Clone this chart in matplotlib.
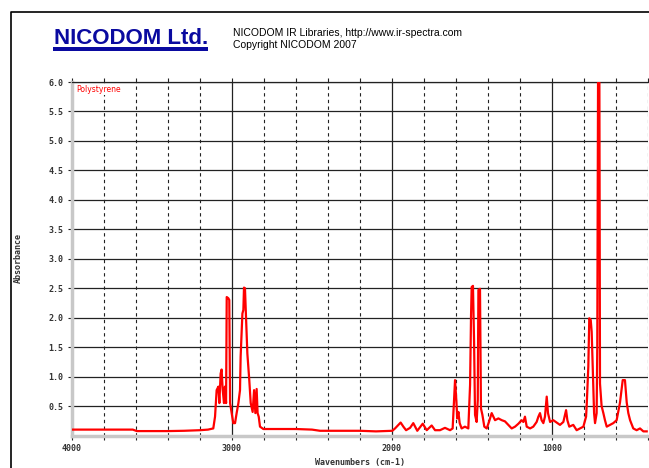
import matplotlib
matplotlib.use("Agg")
import matplotlib.pyplot as plt
from matplotlib.lines import Line2D
from matplotlib.patches import Rectangle
from matplotlib.ticker import MultipleLocator, FuncFormatter

# polystyrene IR spectrum
wavenumber = [
    4000, 3900, 3800, 3700, 3620, 3595, 3500, 3400, 3300, 3200, 3150, 3117,
    3106, 3096, 3085, 3079, 3071, 3065, 3058, 3050, 3044, 3037, 3033, 3023,
    3017, 3012, 3002, 2992, 2981, 2971, 2960, 2950, 2946, 2935, 2929, 2925,
    2919, 2912, 2904, 2892, 2883, 2871, 2862, 2854, 2846, 2840, 2833, 2825,
    2804, 2700, 2600, 2500, 2450, 2400, 2300, 2200, 2100, 2010, 1998, 1981,
    1960, 1946, 1929, 1912, 1887, 1867, 1842, 1808, 1783, 1752, 1731, 1700,
    1669, 1637, 1621, 1612, 1606, 1598, 1592, 1585, 1577, 1565, 1544, 1523,
    1512, 1506, 1502, 1494, 1487, 1481, 1471, 1464, 1460, 1450, 1444, 1435,
    1423, 1408, 1394, 1377, 1356, 1335, 1314, 1294, 1273, 1252, 1231, 1210,
    1190, 1179, 1169, 1158, 1137, 1117, 1096, 1085, 1075, 1065, 1054, 1044,
    1033, 1025, 1012, 992, 971, 950, 929, 912, 904, 892, 867, 846,
    825, 804, 787, 783, 773, 767, 758, 752, 746, 737, 731, 721,
    717, 712, 704, 700, 690, 679, 669, 658, 638, 617, 596, 575,
    558, 544, 533, 523, 512, 492, 471, 450, 429, 408,
]
absorbance = [
    0.10, 0.10, 0.10, 0.10, 0.10, 0.075, 0.075, 0.075, 0.08, 0.09, 0.10, 0.12,
    0.32, 0.77, 0.83, 0.55, 1.05, 1.12, 0.77, 0.55, 0.83, 0.55, 2.35, 2.33,
    2.30, 0.55, 0.38, 0.21, 0.21, 0.38, 0.55, 0.77, 1.34, 2.07, 2.13, 2.51,
    2.50, 1.96, 1.39, 0.94, 0.55, 0.40, 0.77, 0.38, 0.79, 0.38, 0.32, 0.15,
    0.11, 0.11, 0.11, 0.10, 0.08, 0.08, 0.08, 0.08, 0.07, 0.08, 0.08, 0.12,
    0.18, 0.22, 0.15, 0.09, 0.13, 0.21, 0.08, 0.20, 0.09, 0.17, 0.09, 0.09,
    0.13, 0.09, 0.12, 0.60, 0.94, 0.60, 0.29, 0.40, 0.21, 0.12, 0.15, 0.12,
    0.86, 2.04, 2.52, 2.54, 1.59, 0.35, 0.23, 0.60, 2.47, 2.49, 0.46, 0.35,
    0.15, 0.12, 0.23, 0.38, 0.26, 0.29, 0.26, 0.24, 0.18, 0.12, 0.15, 0.20,
    0.26, 0.23, 0.32, 0.15, 0.12, 0.15, 0.23, 0.32, 0.38, 0.26, 0.21, 0.32,
    0.66, 0.38, 0.23, 0.26, 0.22, 0.18, 0.23, 0.43, 0.26, 0.15, 0.18, 0.09,
    0.12, 0.15, 0.32, 0.52, 1.17, 1.99, 1.96, 1.76, 1.22, 0.38, 0.21, 0.38,
    1.50, 6.20, 6.20, 0.88, 0.50, 0.38, 0.26, 0.15, 0.18, 0.21, 0.26, 0.56,
    0.94, 0.94, 0.56, 0.38, 0.26, 0.12, 0.09, 0.12, 0.07, 0.07,
]

x_major = [4000, 3000, 2000, 1000]
y_ticks = [0.5, 1.0, 1.5, 2.0, 2.5, 3.0, 3.5, 4.0, 4.5, 5.0, 5.5, 6.0]

W, H = 649, 468
fig = plt.figure(figsize=(W / 100, H / 100), dpi=100)
fig.patch.set_facecolor("white")

ax_l, ax_r, ax_t, ax_b = 72, 648, 82, 435.5
ax = fig.add_axes([ax_l / W, 1 - ax_b / H, (ax_r - ax_l) / W, (ax_b - ax_t) / H])

ax.set_xlim(4000, 400)
ax.set_ylim(0, 6.0)

# vertical grid: solid at each thousand, dashed every 200
for wn in range(4000, 399, -200):
    if wn % 1000 == 0 and wn != 4000:
        ax.axvline(wn, color="#222222", linewidth=0.9, zorder=1)
    else:
        ax.axvline(wn, color="#222222", linewidth=0.8, linestyle=(0, (3, 3)), zorder=1)
for yv in y_ticks:
    ax.axhline(yv, color="#222222", linewidth=0.9, zorder=1)

ax.plot(wavenumber, absorbance, color="#ff0000", linewidth=1.6, zorder=3)

for side in ["left", "bottom"]:
    ax.spines[side].set_color("#c8c8c8")
    ax.spines[side].set_linewidth(2.5)
ax.spines["right"].set_visible(False)
ax.spines["top"].set_color("#222222")
ax.spines["top"].set_linewidth(0.9)

ax.xaxis.set_major_locator(MultipleLocator(200))
ax.xaxis.set_major_formatter(FuncFormatter(lambda v, p: f"{int(v)}" if int(v) in x_major else ""))
ax.set_yticks(y_ticks)
ax.yaxis.set_major_formatter(FuncFormatter(lambda v, p: f"{v:.1f}"))

tick_font = dict(family="DejaVu Sans Mono", weight="bold", size=6)
ax.tick_params(axis="x", which="both", top=True, bottom=True, direction="out", length=3, width=0.8, color="#222222", pad=3, labelcolor="#333333")
ax.tick_params(axis="y", direction="out", length=3, width=0.8, color="#222222", pad=3, labelcolor="#333333")
for lab in ax.get_xticklabels() + ax.get_yticklabels():
    lab.set_fontfamily(tick_font["family"])
    lab.set_fontweight(tick_font["weight"])
    lab.set_fontsize(tick_font["size"])

ax.text(0.008, 0.992, "Polystyrene", transform=ax.transAxes, color="#ff0000", fontsize=5.5, va="top", ha="left", zorder=4,
        bbox=dict(facecolor="white", edgecolor="none", pad=0.5))

fig.text(18 / W, 1 - 258 / H, "Absorbance", rotation=90, ha="center", va="center", fontsize=6, fontweight="bold", family="DejaVu Sans Mono", color="#333333")
fig.text(360 / W, 1 - 462 / H, "Wavenumbers (cm-1)", ha="center", va="center", fontsize=6, fontweight="bold", family="DejaVu Sans Mono", color="#333333")

# header
blue = "#0a0aa0"
fig.text(54 / W, 1 - 44 / H, "NICODOM Ltd.", color=blue, fontsize=16, fontweight="bold", family="Liberation Sans", ha="left", va="baseline")
fig.add_artist(Rectangle((53 / W, 1 - 51 / H), 155 / W, 4 / H, transform=fig.transFigure, facecolor=blue, edgecolor="none"))
fig.text(233 / W, 1 - 33 / H, "NICODOM IR Libraries, http://www.ir-spectra.com", fontsize=7.5, family="Liberation Sans", ha="left", va="center")
fig.text(233 / W, 1 - 45 / H, "Copyright NICODOM 2007", fontsize=7.5, family="Liberation Sans", ha="left", va="center")

# page frame
fig.add_artist(Line2D([11 / W, 11 / W, 1], [0, 1 - 12 / H, 1 - 12 / H], transform=fig.transFigure, color="black", linewidth=1.2))

fig.savefig("out.png", dpi=100)
